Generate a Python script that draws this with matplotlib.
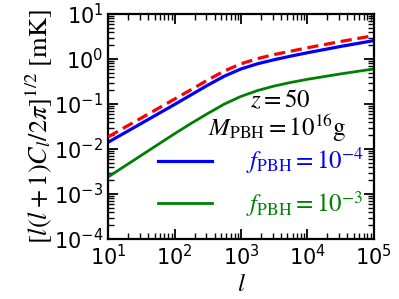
import numpy as np
import matplotlib
matplotlib.use('Agg')
import matplotlib.pyplot as plt
from matplotlib.ticker import LogLocator, NullFormatter

plt.rcParams['mathtext.fontset'] = 'stix'
plt.rcParams['font.family'] = 'DejaVu Sans'

# log10(l) and log10 of the curves
logl = [1.0, 1.25, 1.5, 1.75, 2.0, 2.25, 2.5, 2.75, 3.0,
        3.25, 3.5, 3.75, 4.0, 4.25, 4.5, 4.75, 5.0]
log_red = [-1.73, -1.52, -1.31, -1.10, -0.89, -0.68, -0.465, -0.265, -0.105,
           0.01, 0.10, 0.175, 0.25, 0.32, 0.39, 0.455, 0.52]
log_blue = [-1.85, -1.64, -1.43, -1.22, -1.01, -0.795, -0.58, -0.38, -0.22,
            -0.105, -0.015, 0.065, 0.14, 0.21, 0.28, 0.345, 0.41]
log_green = [-2.62, -2.38, -2.14, -1.90, -1.66, -1.43, -1.21, -1.00, -0.83,
             -0.70, -0.60, -0.52, -0.45, -0.39, -0.33, -0.275, -0.22]

l = 10.0 ** np.array(logl)
red = 10.0 ** np.array(log_red)
blue = 10.0 ** np.array(log_blue)
green = 10.0 ** np.array(log_green)

fig = plt.figure(figsize=(3.99, 2.99), dpi=100)
ax = fig.add_axes([0.271, 0.2007, 0.666, 0.7523])

ax.plot(l, red, color='red', lw=2.3, ls=(0, (3.5, 1.8)), zorder=3)
bl, = ax.plot(l, blue, color='blue', lw=2.3, label=r'$f_{\rm PBH} = 10^{-4}$')
gr, = ax.plot(l, green, color='green', lw=2.0, label=r'$f_{\rm PBH} = 10^{-3}$')

ax.set_xscale('log')
ax.set_yscale('log')
ax.set_xlim(10, 1e5)
ax.set_ylim(1e-4, 1e1)

for axis in (ax.xaxis, ax.yaxis):
    axis.set_major_locator(LogLocator(base=10, numticks=20))
    axis.set_minor_locator(LogLocator(base=10, subs=np.arange(2, 10), numticks=20))
    axis.set_minor_formatter(NullFormatter())

ax.tick_params(which='both', direction='in', top=True, right=True, labelsize=15)
ax.tick_params(which='major', length=7, width=1.3)
ax.tick_params(which='minor', length=4, width=1.0)
for s in ax.spines.values():
    s.set_linewidth(1.6)

ax.set_xlabel(r'$l$', fontsize=18, labelpad=2)
ax.set_ylabel(r'$[l(l+1)C_l/2\pi]^{1/2}\ [\mathrm{mK}]$', fontsize=19, labelpad=0)

ax.text(0.647, 0.615, r'$z = 50$', transform=ax.transAxes, fontsize=18, ha='center', va='center')
ax.text(0.635, 0.49, r'$M_{\rm PBH} = 10^{16}\mathrm{g}$', transform=ax.transAxes, fontsize=18,
        ha='center', va='center')

ax.legend(handles=[bl, gr], loc='upper left', bbox_to_anchor=(0.103, 0.513), frameon=False,
          fontsize=18, handlelength=2.16, handletextpad=1.36, labelspacing=0.5,
          labelcolor='linecolor')

fig.savefig('out.png', dpi=100)
